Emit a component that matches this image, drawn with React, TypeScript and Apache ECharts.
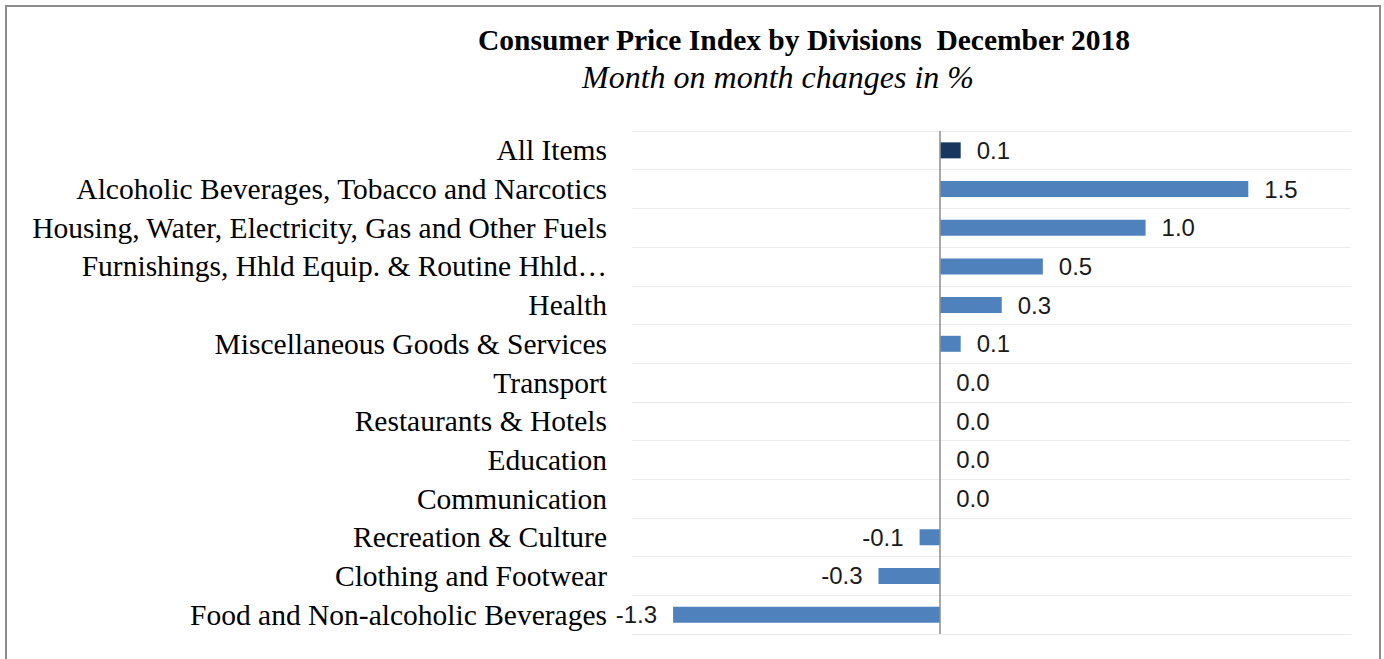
import React, { useEffect, useRef } from "react";
import * as echarts from "echarts";

const categories = [
  "All Items",
  "Alcoholic Beverages, Tobacco and Narcotics",
  "Housing, Water, Electricity, Gas and Other Fuels",
  "Furnishings, Hhld Equip. & Routine Hhld…",
  "Health",
  "Miscellaneous Goods & Services",
  "Transport",
  "Restaurants & Hotels",
  "Education",
  "Communication",
  "Recreation & Culture",
  "Clothing and Footwear",
  "Food and Non-alcoholic Beverages",
];

const values = [0.1, 1.5, 1.0, 0.5, 0.3, 0.1, 0.0, 0.0, 0.0, 0.0, -0.1, -0.3, -1.3];

const titleText = "Consumer Price Index by Divisions  December 2018";
const subtitleText = "Month on month changes in %";

export default function App() {
  const ref = useRef<HTMLDivElement>(null);
  useEffect(() => {
    document.body.style.margin = "0";
    const chart = echarts.init(ref.current!, null, { renderer: "svg" });
    const data = values.map((v, i) => ({
      value: v,
      itemStyle: { color: i === 0 ? "#17375E" : "#4F81BD" },
      label: { position: v < 0 ? "left" : "right" },
    }));
    chart.setOption({
      animation: false,
      backgroundColor: "#ffffff",
      title: [
        {
          text: titleText,
          left: 799,
          top: 20,
          textAlign: "center",
          textStyle: {
            fontFamily: "Liberation Serif",
            fontWeight: "bold",
            fontSize: 29.5,
            color: "#000",
          },
        },
        {
          text: subtitleText,
          left: 773,
          top: 56,
          textAlign: "center",
          textStyle: {
            fontFamily: "Liberation Serif",
            fontStyle: "italic",
            fontWeight: "normal",
            fontSize: 32,
            color: "#000",
          },
        },
      ],
      graphic: [
        {
          type: "rect",
          shape: { x: 6, y: 6, width: 1374, height: 700 },
          style: { fill: "none", stroke: "#8c8c8c", lineWidth: 2 },
          silent: true,
        },
      ],
      grid: { left: 632, right: 33, top: 131, bottom: 25 },
      xAxis: {
        type: "value",
        min: -1.5,
        max: 2.0,
        interval: 0.5,
        axisLine: { show: false },
        axisTick: { show: false },
        axisLabel: { show: false },
        splitLine: { show: false },
      },
      yAxis: {
        type: "category",
        inverse: true,
        data: categories,
        axisLine: { show: false },
        axisTick: { show: false, interval: 0 },
        axisLabel: {
          interval: 0,
          margin: 25,
          fontFamily: "Liberation Serif",
          fontSize: 29.5,
          color: "#000",
        },
        splitLine: { show: true, interval: 0, lineStyle: { color: "#ececec", width: 1 } },
      },
      series: [
        {
          type: "bar",
          data,
          barWidth: 16,
          label: {
            show: true,
            distance: 16,
            fontFamily: "Liberation Sans",
            fontSize: 24,
            color: "#1a1a1a",
            formatter: (p: any) => Number(p.value).toFixed(1),
          },
          markLine: {
            silent: true,
            symbol: "none",
            label: { show: false },
            lineStyle: { color: "#8c8c8c", type: "solid", width: 1.5 },
            data: [{ xAxis: 0 }],
          },
        },
      ],
    });
    return () => chart.dispose();
  }, []);
  return <div ref={ref} style={{ width: 1384, height: 659 }} />;
}
